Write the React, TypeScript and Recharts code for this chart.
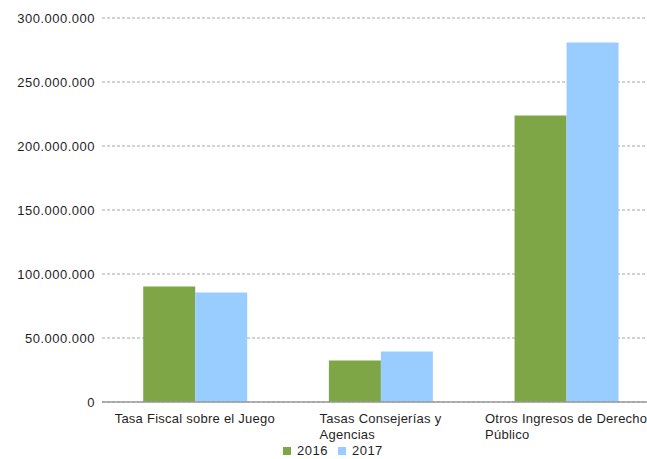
import React from "react";
import { BarChart, Bar, XAxis, YAxis, CartesianGrid, Legend } from "recharts";

const categories = [
  "Tasa Fiscal sobre el Juego",
  "Tasas Consejerías y|Agencias",
  "Otros Ingresos de Derecho|Público",
];
const values2016 = [90200000, 32400000, 223800000];
const values2017 = [85500000, 39500000, 280900000];
const seriesNames = ["2016", "2017"];
const yTicks = [0, 50000000, 100000000, 150000000, 200000000, 250000000, 300000000];

const COLORS = ["#7EA646", "#99CCFF"];
const FONT = "'Liberation Sans', Arial, sans-serif";
const TEXT = "#1f1f1f";

const data = categories.map((c, i) => ({
  name: c,
  [seriesNames[0]]: values2016[i],
  [seriesNames[1]]: values2017[i],
}));

const fmt = (v: number) => String(v).replace(/\B(?=(\d{3})+(?!\d))/g, ".");

let ctx: CanvasRenderingContext2D | null = null;
function measure(text: string, size: number, spacing: number) {
  if (!ctx) {
    const c = document.createElement("canvas");
    ctx = c.getContext("2d");
  }
  if (!ctx) return text.length * size * 0.55;
  ctx.font = `${size}px 'Liberation Sans', Arial, sans-serif`;
  return ctx.measureText(text).width + spacing * text.length;
}

const XTick = (props: any) => {
  const { x, y, payload } = props;
  const lines = String(payload.value).split("|");
  const size = 13;
  const spacing = 0.25;
  const w = measure(lines[0], size, spacing);
  const startX = x - w / 2;
  return (
    <g>
      {lines.map((l, i) => (
        <text
          key={i}
          x={startX}
          y={y + 13 + i * 16}
          textAnchor="start"
          fontFamily={FONT}
          fontSize={size}
          letterSpacing={spacing}
          fill={TEXT}
        >
          {l}
        </text>
      ))}
    </g>
  );
};

const LegendContent = () => (
  <div
    style={{
      display: "flex",
      alignItems: "center",
      fontFamily: FONT,
      fontSize: 13,
      letterSpacing: 0.5,
      color: TEXT,
      lineHeight: "14px",
    }}
  >
    {seriesNames.map((s, i) => (
      <div key={s} style={{ display: "flex", alignItems: "center", marginRight: 10 }}>
        <span
          style={{
            display: "inline-block",
            width: 8,
            height: 8,
            background: COLORS[i],
            marginRight: 6,
          }}
        />
        <span>{s}</span>
      </div>
    ))}
  </div>
);

export default function App() {
  return (
    <div
      style={{
        position: "fixed",
        left: 0,
        top: 0,
        width: 647,
        height: 459,
        overflow: "hidden",
        background: "#fff",
      }}
    >
      <BarChart
        width={659}
        height={459}
        data={data}
        margin={{ top: 18, right: 0, left: 0, bottom: 0 }}
        barCategoryGap="22.2%"
        barGap={0}
      >
        <CartesianGrid
          vertical={false}
          stroke="#a6a6a6"
          strokeDasharray="3 2"
        />
        <XAxis
          dataKey="name"
          height={57}
          tickLine={false}
          axisLine={{ stroke: "#9a9a9a", strokeWidth: 1.5 }}
          tick={<XTick />}
          interval={0}
        />
        <YAxis
          width={102}
          domain={[0, 300000000]}
          ticks={yTicks}
          tickFormatter={fmt}
          axisLine={false}
          tickLine={false}
          tickMargin={1}
          tick={{
            fontFamily: FONT,
            fontSize: 13,
            fill: TEXT,
            letterSpacing: 0.5,
          }}
        />
        <Legend
          verticalAlign="middle"
          align="center"
          layout="horizontal"
          content={<LegendContent />}
          wrapperStyle={{ top: 444, left: 283, width: 140 }}
        />
        <Bar dataKey="2016" fill={COLORS[0]} isAnimationActive={false} />
        <Bar dataKey="2017" fill={COLORS[1]} isAnimationActive={false} />
      </BarChart>
    </div>
  );
}
